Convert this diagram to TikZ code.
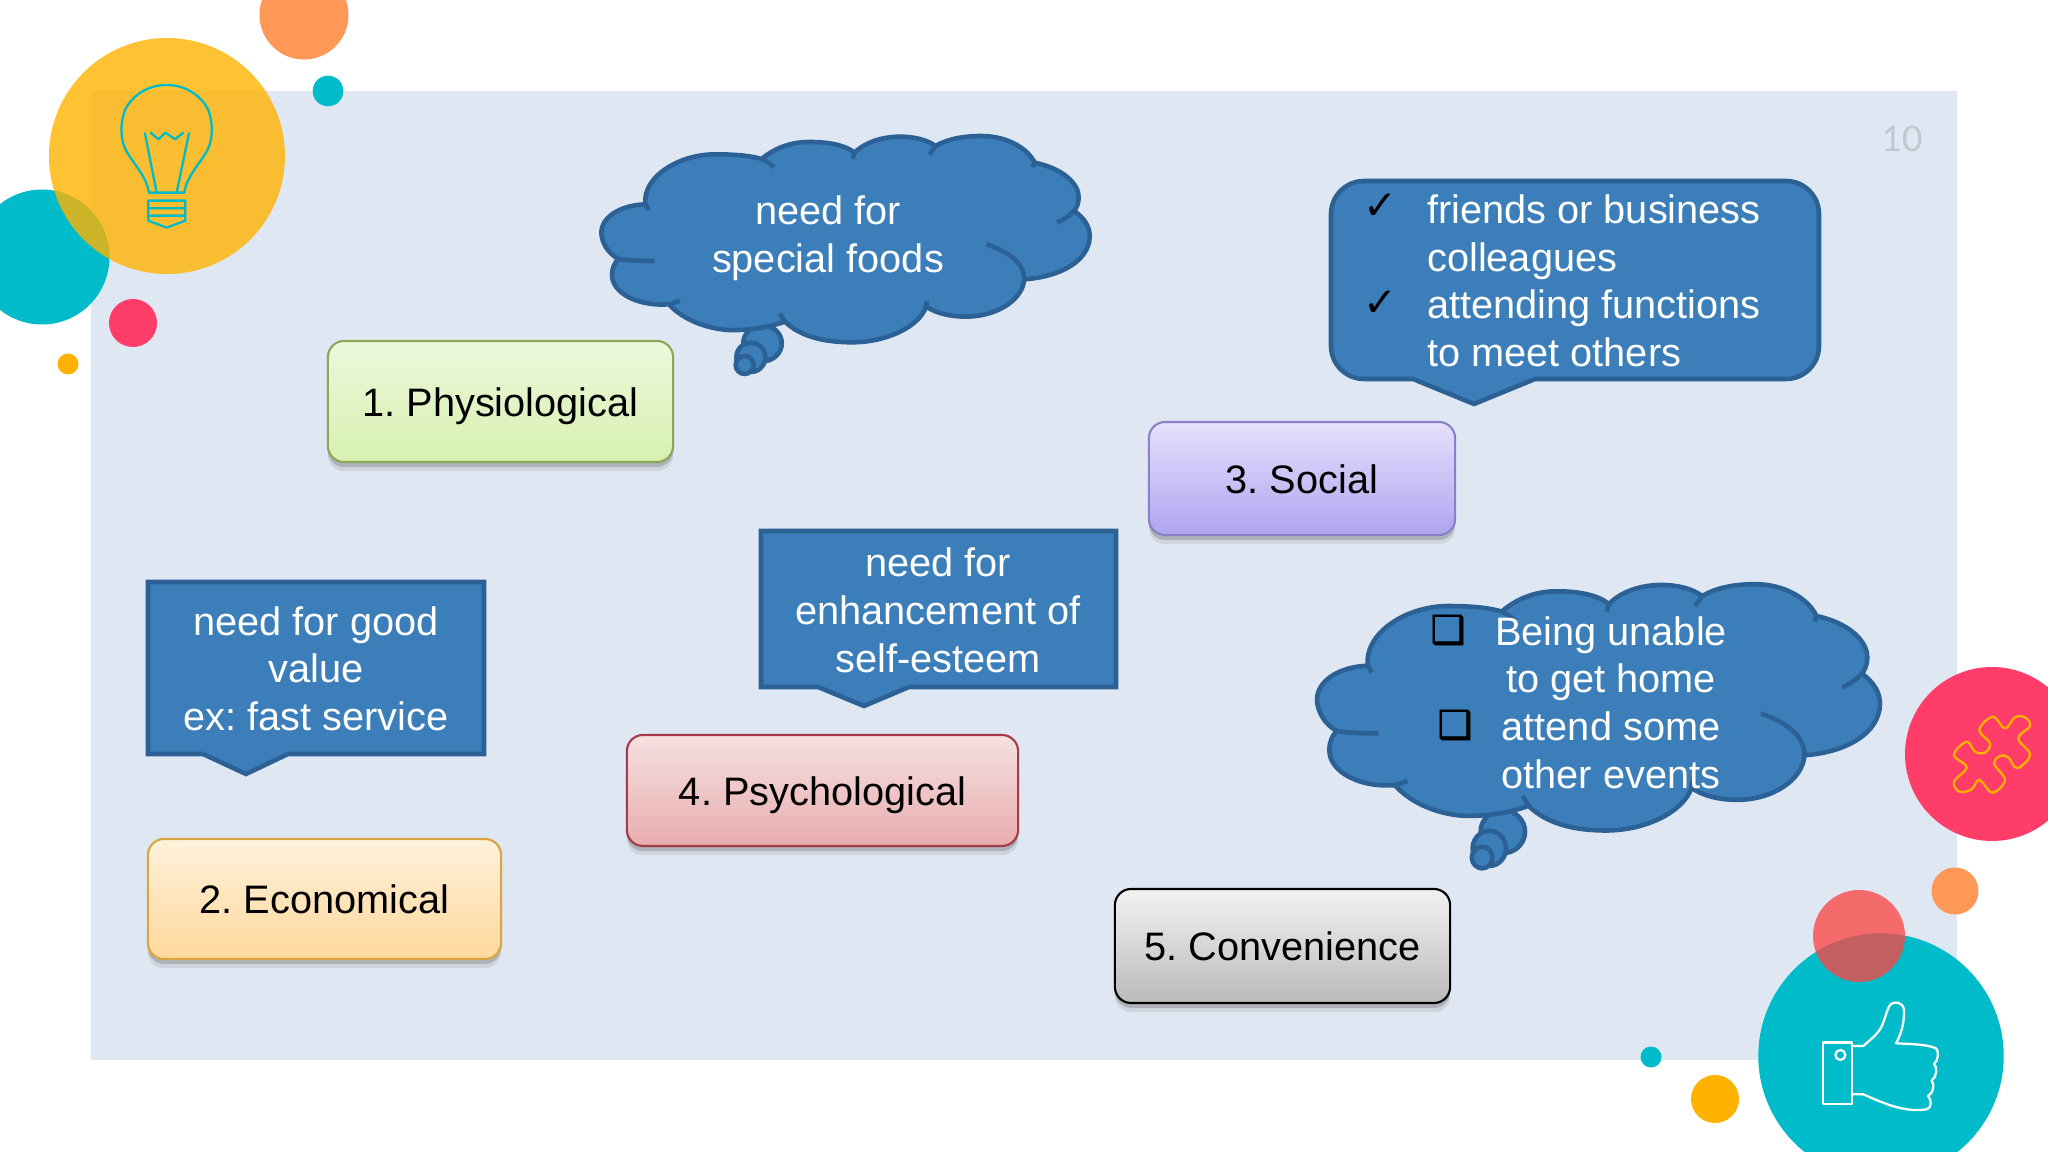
\documentclass[tikz,border=0pt]{standalone}
\usepackage{fontspec}
\setmainfont{Liberation Sans}
\newfontfamily\pagefont{Lato}
\newfontfamily\dingfont{DejaVu Sans}
\newfontfamily\squarefont[FakeBold=1.6]{DejaVu Sans}
\usetikzlibrary{shadows}
\definecolor{tealc}{HTML}{00BBC9}
\definecolor{pinkc}{HTML}{FF3D68}
\definecolor{amberc}{HTML}{FFB300}
\definecolor{orangec}{HTML}{FF9757}
\definecolor{redc}{HTML}{FA4643}
\definecolor{panelc}{HTML}{DFE7F2}
\definecolor{bubblefill}{HTML}{3B7EB9}
\definecolor{bubbleline}{HTML}{2C6195}
\frenchspacing
\tikzset{
  box/.style={draw, rounded corners=4.6pt, line width=0.6pt, text=black, inner sep=0pt,
    font=\fontsize{11.3}{13.57}\selectfont, text height=9.3pt, text depth=0.8pt,
    drop shadow={shadow xshift=0pt, shadow yshift=-2.6pt, fill=black!60, opacity=0.14},
    drop shadow={shadow xshift=0pt, shadow yshift=-1.4pt, fill=black!60, opacity=0.3}},
  bubble/.style={draw=bubbleline, fill=bubblefill, line width=1.3pt, line join=miter},
  cloudtail/.style={draw=bubbleline, line width=1.3pt},
  bubbletext/.style={text=white, inner sep=0pt, font=\fontsize{11.3}{13.57}\selectfont},
  tick/.style={text=black, inner sep=0pt, font=\dingfont\fontsize{11.5}{13}\selectfont},
  squarebullet/.style={text=black, inner sep=0pt, font=\squarefont\fontsize{11}{13}\selectfont},
  icon/.style={line width=0.65pt, line join=round, line cap=round}
}
\newcommand{\cloudouter}{(190,283) .. controls (180,200) and (290,130) .. (400,133)
  .. controls (450,133) and (500,138) .. (527,147)
  .. controls (570,110) and (620,95) .. (670,96) .. controls (720,96) and (770,105) .. (797,128)
  .. controls (830,95) and (880,80) .. (930,80) .. controls (970,80) and (1010,90) .. (1032,108)
  .. controls (1070,85) and (1120,78) .. (1165,78) .. controls (1240,78) and (1300,115) .. (1320,158)
  .. controls (1400,175) and (1450,220) .. (1448,265) .. controls (1447,285) and (1440,295) .. (1435,303)
  .. controls (1465,325) and (1480,350) .. (1480,380) .. controls (1478,450) and (1400,500) .. (1290,508)
  .. controls (1285,570) and (1210,620) .. (1120,620) .. controls (1075,620) and (1035,610) .. (1005,590)
  .. controls (985,650) and (890,697) .. (790,697) .. controls (710,697) and (640,680) .. (595,635)
  .. controls (540,655) and (480,662) .. (430,660) .. controls (360,655) and (295,625) .. (258,583)
  .. controls (170,590) and (93,550) .. (93,495) .. controls (93,475) and (100,458) .. (112,447)
  .. controls (80,430) and (62,395) .. (62,368) .. controls (62,320) and (120,285) .. (190,283) -- cycle}
\newcommand{\cloudtails}{(527,147) .. controls (540,152) and (552,160) .. (563,172)
  (797,128) -- (792,147) (1032,108) -- (1015,133) (1320,158) -- (1315,172)
  (1435,303) .. controls (1420,318) and (1405,328) .. (1385,338)
  (1290,508) .. controls (1290,460) and (1245,425) .. (1180,403)
  (1005,590) -- (1008,573) (595,635) -- (580,610)
  (258,583) .. controls (270,580) and (280,576) .. (290,572)
  (112,447) .. controls (140,452) and (180,453) .. (217,453)
  (190,283) -- (200,300)}
\newcommand{\cloudshape}{
  \draw[bubble] (530,700) ellipse [x radius=56, y radius=54];
  \draw[bubble] \cloudouter;
  \draw[cloudtail] \cloudtails;
  \draw[bubble] (496,742) ellipse [x radius=42, y radius=44];
  \draw[bubble] (478,765) ellipse [x radius=26, y radius=27];
}
\begin{document}
\begin{tikzpicture}[x=0.01cm,y=-0.01cm]
\useasboundingbox (0,0) rectangle (2048,1152);
\fill[white] (0,0) rectangle (2048,1152);
\fill[panelc] (91,91) rectangle (1957,1060);
\node[text=black!14!panelc, inner sep=0pt, font=\pagefont\fontsize{10}{12}\selectfont] (pagenum) at (1902,139) {10};
% circles top left
\fill[orangec] (304,15) circle [radius=44.5];
\fill[tealc] (328,91) circle [radius=15.3];
\fill[tealc] (42,257) circle [radius=67.5];
\fill[amberc, opacity=0.8] (167,156) circle [radius=118];
\fill[pinkc] (133,323) circle [radius=24];
\fill[amberc] (68,364) circle [radius=10.5];
% circles bottom right
\fill[pinkc] (1992,754) circle [radius=87];
\fill[orangec] (1955,891) circle [radius=23.5];
\fill[tealc] (1881,1056) circle [radius=122.7];
\fill[redc, opacity=0.78] (1859,936) circle [radius=46];
\fill[amberc] (1715,1099) circle [radius=24];
\fill[tealc] (1651,1057) circle [radius=10.5];
% bulb
\begin{scope}[scale=0.3333]
\draw[icon, draw=tealc] (447,578) .. controls (440,530) and (400,490) .. (380,455)
  .. controls (360,420) and (360,370) .. (375,330) .. controls (400,280) and (450,255) .. (500,255)
  .. controls (550,255) and (600,280) .. (625,330) .. controls (640,370) and (640,420) .. (620,455)
  .. controls (600,490) and (560,530) .. (553,578) -- cycle;
\draw[icon, draw=tealc] (435,400) -- (470,578) (567,400) -- (530,578)
  (452,398) -- (475,418) -- (497,398) -- (525,418) -- (550,398);
\draw[icon, draw=tealc] (445,602) -- (556,602) -- (556,662) -- (500,683) -- (445,662) -- cycle
  (445,625) -- (556,625) (445,647) -- (556,647);
\end{scope}
% puzzle
\begin{scope}[shift={(1700,640)},scale=0.3333]
\draw[icon, draw=amberc] plot[smooth cycle, tension=0.6] coordinates {(915,265) (945,232) (975,232) (990,258) (955,295)
  (990,342) (965,378) (945,382) (925,352) (900,348) (883,372) (915,420) (877,458) (838,420) (815,448)
  (778,455) (762,425) (800,382) (762,345) (800,305) (825,335) (855,338) (870,310) (838,270) (878,230)};
\end{scope}
% thumb
\begin{scope}[shift={(1700,640)},scale=0.3333]
\draw[icon, draw=white] (369,1208) rectangle (455,1393);
\draw[icon, draw=white] (421,1245) circle [radius=15];
\draw[icon, draw=white] (455,1218) -- (490,1218) .. controls (510,1200) and (530,1185) .. (542,1165)
  .. controls (555,1140) and (560,1110) .. (570,1095) .. controls (580,1082) and (610,1085) .. (612,1110)
  .. controls (612,1140) and (610,1170) .. (588,1210) .. controls (620,1212) and (680,1212) .. (708,1225)
  .. controls (718,1235) and (715,1262) .. (702,1272) .. controls (712,1280) and (712,1310) .. (695,1322)
  .. controls (705,1335) and (700,1360) .. (684,1368) .. controls (696,1380) and (695,1405) .. (680,1408)
  .. controls (620,1418) and (560,1395) .. (490,1363) -- (455,1363);
\end{scope}
% clouds
\begin{scope}[shift={(580,110)},xscale=0.3444,yscale=0.3333]
\cloudshape
\end{scope}
\begin{scope}[shift={(1292.4,553.1)},xscale=0.397,yscale=0.398]
\cloudshape
\end{scope}
\node[bubbletext, align=center] (foods) at (828,239.3) {\strut need for\\\strut special foods};
\node[bubbletext, align=center] (events) at (1611,707.3) {\strut Being unable\\to get home\\attend some\\\strut other events};
\node[squarebullet] (square1) at (1448,630) {❑};
\node[squarebullet] (square2) at (1455,725) {❑};
% callouts
\draw[bubble] (148,582) -- (484,582) -- (484,754) -- (288,754) -- (246,774) -- (203,754) -- (148,754) -- cycle;
\draw[bubble] (761,531) -- (1116,531) -- (1116,687) -- (909,687) -- (864,706) -- (818,687) -- (761,687) -- cycle;
\draw[bubble] (1535,379) [rounded corners=9.4pt] -- (1819,379) -- (1819,181) -- (1331,181) -- (1331,379) [sharp corners] -- (1413,379) -- (1474,404) -- cycle;
\node[bubbletext, align=center] (goodvalue) at (316,673.3) {\strut need for good\\value\\\strut ex: fast service};
\node[bubbletext, align=center] (esteem) at (938,614.8) {\strut need for\\enhancement of\\\strut self-esteem};
\node[bubbletext, align=left, anchor=west] (friends) at (1426.5,285.5) {\strut friends or business\\colleagues\\attending functions\\\strut to meet others};
\node[tick] (check1) at (1380,207) {✓};
\node[tick] (check2) at (1380,304) {✓};
% boxes
\definecolor{physiotop}{HTML}{ECF8DC}\definecolor{physiobot}{HTML}{D7F0B0}\definecolor{physioline}{HTML}{8BA755}
\definecolor{econtop}{HTML}{FFF1DC}\definecolor{econbot}{HTML}{FFD89B}\definecolor{econline}{HTML}{D9A441}
\definecolor{socialtop}{HTML}{E6E0FC}\definecolor{socialbot}{HTML}{B0A4F0}\definecolor{socialline}{HTML}{8A80C6}
\definecolor{psychtop}{HTML}{F6E1E1}\definecolor{psychbot}{HTML}{E8ACAE}\definecolor{psychline}{HTML}{A63A48}
\node[box, draw=physioline, top color=physiotop, bottom color=physiobot, minimum width=3.45cm, minimum height=1.21cm] (physio) at (500.5,401.5) {1. Physiological};
\node[box, draw=econline, top color=econtop, bottom color=econbot, minimum width=3.53cm, minimum height=1.2cm] (econ) at (324.5,899) {2. Economical};
\node[box, draw=socialline, top color=socialtop, bottom color=socialbot, minimum width=3.06cm, minimum height=1.13cm] (social) at (1302,478.5) {3. Social};
\node[box, draw=psychline, top color=psychtop, bottom color=psychbot, minimum width=3.91cm, minimum height=1.11cm] (psych) at (822.5,790.5) {4. Psychological};
\node[box, draw=black, top color=black!5, bottom color=black!27, minimum width=3.35cm, minimum height=1.14cm] (conv) at (1282.5,946) {5. Convenience};
\end{tikzpicture}
\end{document}
